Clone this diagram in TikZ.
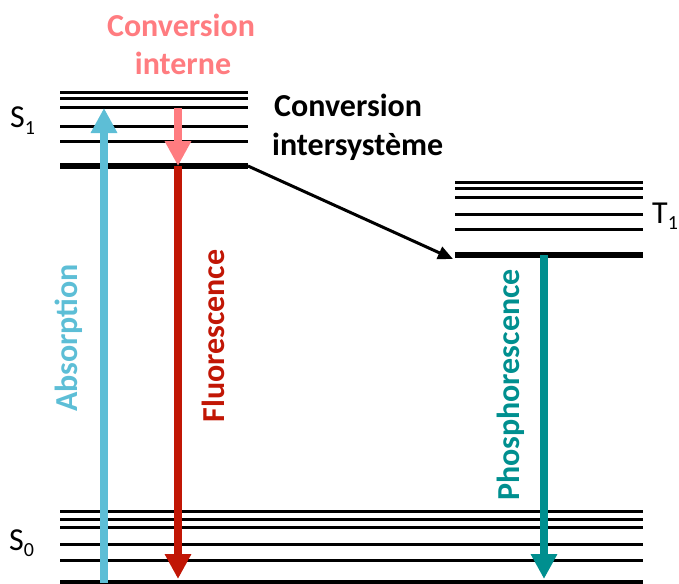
\documentclass[tikz,border=0pt]{standalone}
\usepackage{fontspec}
\setmainfont{Carlito}
\usetikzlibrary{arrows.meta}
\definecolor{absblue}{RGB}{93,190,214}
\definecolor{icsalmon}{RGB}{255,124,128}
\definecolor{fluored}{RGB}{193,22,5}
\definecolor{phosteal}{RGB}{0,143,143}
\newcommand\mysubs[1]{\raisebox{-6.5pt}{\fontsize{20}{20}\selectfont #1}}
\begin{document}
\begin{tikzpicture}[x=1pt,y=1pt,
  thinlevel/.style={line width=3pt},
  thicklevel/.style={line width=5.8pt},
  bigarrow/.style={line width=8pt,-{Triangle[width=25pt,length=25pt]}},
  iscarrow/.style={line width=3pt,-{Triangle[width=13pt,length=15pt]}},
  lbl/.style={font=\fontsize{32}{36}\selectfont,inner sep=0pt},
  blbl/.style={font=\bfseries\fontsize{32}{36}\selectfont,inner sep=0pt},
]
\useasboundingbox (0,-583) rectangle (679,0);
% S1 levels
\foreach \y in {93,99,108,126,141} \draw[thinlevel] (60,-\y) -- (248,-\y);
\draw[thicklevel] (60,-166) -- (248,-166);
% T1 levels
\foreach \y in {182,188,197,214,229} \draw[thinlevel] (455,-\y) -- (643,-\y);
\draw[thicklevel] (455,-255) -- (643,-255);
% S0 levels
\foreach \y in {511,519,527,544,560} \draw[thinlevel] (60,-\y) -- (643,-\y);
\draw[thicklevel] (60,-583.3) -- (643,-583.3);
% named points
\coordinate (absStart) at (104,-583);
\coordinate (absEnd) at (104,-108);
\coordinate (icStart) at (178,-108);
\coordinate (icEnd) at (178,-166);
\coordinate (flEnd) at (178,-579);
\coordinate (phStart) at (544,-255);
\coordinate (phEnd) at (544,-579);
\coordinate (iscStart) at (248,-166);
\coordinate (iscEnd) at (453,-259);
% arrows
\draw[bigarrow,absblue] (absStart) -- (absEnd);
\draw[bigarrow,icsalmon] (icStart) -- (icEnd);
\draw[bigarrow,fluored] (icEnd) -- (flEnd);
\draw[bigarrow,phosteal] (phStart) -- (phEnd);
\draw[iscarrow,black] (iscStart) -- (iscEnd);
% texts
\node[blbl,text=icsalmon,anchor=base] (ic1) at (181,-37) {Conversion};
\node[blbl,text=icsalmon,anchor=base] (ic2) at (183,-75) {interne};
\node[blbl,anchor=base west] (isc1) at (274,-117) {Conversion};
\node[blbl,anchor=base west] (isc2) at (272,-155) {intersystème};
\node[lbl,anchor=base west] (s1) at (10,-128) {S\mysubs{1}};
\node[lbl,anchor=base west] (t1) at (652,-223) {T\mysubs{1}};
\node[lbl,anchor=base west] (s0) at (9,-550) {S\mysubs{0}};
\node[blbl,text=absblue,rotate=90,anchor=base] (abs) at (77,-338) {Absorption};
\node[blbl,text=fluored,rotate=90,anchor=base] (fl) at (224,-336) {Fluorescence};
\node[blbl,text=phosteal,rotate=90,anchor=base] (ph) at (519,-385) {Phosphorescence};
\end{tikzpicture}
\end{document}
